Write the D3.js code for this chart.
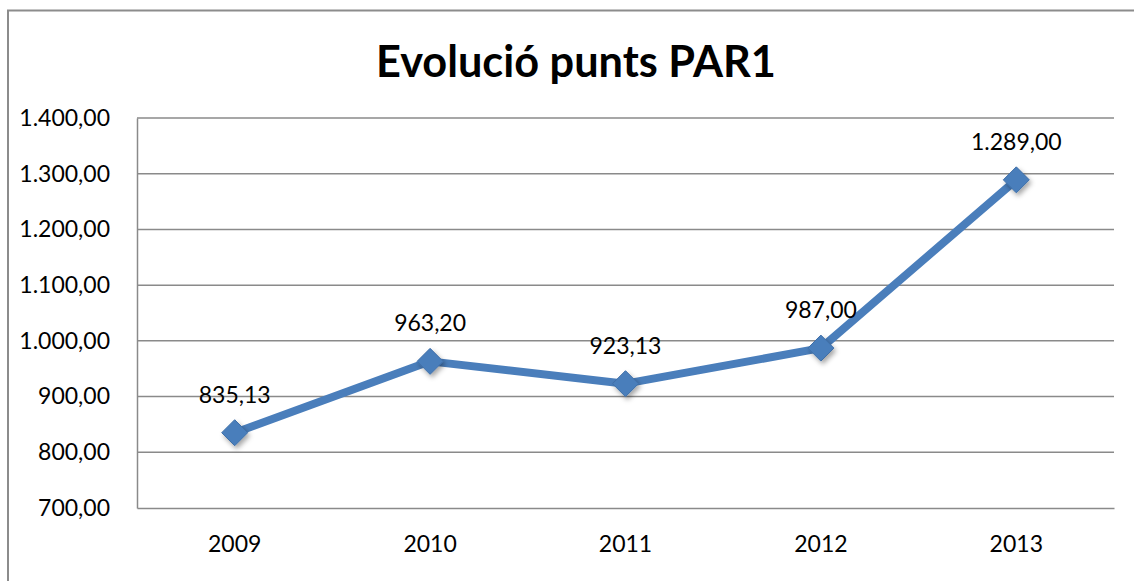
<!DOCTYPE html>
<html><head><meta charset="utf-8">
<script src="https://cdn.jsdelivr.net/npm/d3@7"></script>
<style>html,body{margin:0;padding:0;background:#fff;}svg{display:block;}</style>
</head><body>
<script>
const title = "Evolució punts PAR1";
const years = ["2009","2010","2011","2012","2013"];
const values = [835.13, 963.20, 923.13, 987.00, 1289.00];
const yTicks = [700, 800, 900, 1000, 1100, 1200, 1300, 1400];

const W = 1134, H = 581;
const m = {left:137, right:1114, top:118, bottom:508};
const font = "Lato, 'Open Sans', sans-serif";
const fs = 23;
const blue = "#4a7ebb";
const grid = "#8a8a8a";

const loc = d3.formatLocale({decimal:",", thousands:".", grouping:[3], currency:["",""]});
const fmt = loc.format(",.2f");

const svg = d3.select("body").append("svg").attr("width", W).attr("height", H);
const defs = svg.append("defs");
const f = defs.append("filter").attr("id","sh").attr("x","-50%").attr("y","-50%").attr("width","200%").attr("height","200%");
f.append("feDropShadow").attr("dx",2).attr("dy",3).attr("stdDeviation",2.5).attr("flood-color","#000").attr("flood-opacity",0.35);

svg.append("rect").attr("width",W).attr("height",H).attr("fill","#fff");
// outer chart border (cropped on right/bottom)
svg.append("path").attr("d",`M8,${H+2}V10.5H${W+2}`).attr("fill","none").attr("stroke","#8c8c8c").attr("stroke-width",2);

const x = d3.scaleBand().domain(years).range([m.left, m.right]);
const y = d3.scaleLinear().domain([700,1400]).range([m.bottom, m.top]);

// gridlines
svg.append("g").selectAll("line").data(yTicks.slice(1)).join("line")
  .attr("x1", m.left).attr("x2", m.right)
  .attr("y1", d=>y(d)).attr("y2", d=>y(d))
  .attr("stroke", grid).attr("stroke-width",1.5);

// axes
const yAxis = svg.append("g").attr("transform",`translate(${m.left},0)`)
  .call(d3.axisLeft(y).tickValues(yTicks).tickFormat(fmt).tickSize(0).tickPadding(27));
yAxis.select(".domain").attr("stroke",grid).attr("stroke-width",1.5);
yAxis.selectAll("text").attr("font-family",font).attr("font-size",fs).attr("fill","#000");

const xAxis = svg.append("g").attr("transform",`translate(0,${m.bottom})`)
  .call(d3.axisBottom(x).tickSize(0));
xAxis.select(".domain").attr("stroke",grid).attr("stroke-width",1.5);
xAxis.selectAll("text").attr("font-family",font).attr("font-size",fs).attr("fill","#000")
  .attr("dy", null).attr("y", 44);

const cx = d => x(d) + x.bandwidth()/2;
const pts = years.map((yr,i)=>[cx(yr), y(values[i])]);

// line
svg.append("path").datum(pts)
  .attr("d", d3.line())
  .attr("fill","none").attr("stroke",blue).attr("stroke-width",8)
  .attr("stroke-linejoin","round").attr("stroke-linecap","round");

// markers
const r = 13;
svg.append("g").selectAll("path").data(pts).join("path")
  .attr("d", d=>`M${d[0]},${d[1]-r}L${d[0]+r},${d[1]}L${d[0]},${d[1]+r}L${d[0]-r},${d[1]}Z`)
  .attr("fill", blue).attr("stroke","#3f6fa8").attr("stroke-width",1)
  .attr("filter","url(#sh)");

// data labels
svg.append("g").selectAll("text").data(pts).join("text")
  .attr("x", d=>d[0]).attr("y", d=>d[1]-30)
  .attr("text-anchor","middle").attr("font-family",font).attr("font-size",fs).attr("fill","#000")
  .text((d,i)=>fmt(values[i]));

// title
const t = svg.append("text").attr("x", 576).attr("y", 77)
  .attr("text-anchor","middle").attr("font-family",font).attr("font-weight","bold")
  .attr("font-size",42).attr("fill","#000").text(title);
const tw = t.node().getComputedTextLength();
t.attr("font-size", 42*400/tw);
</script>
</body></html>
